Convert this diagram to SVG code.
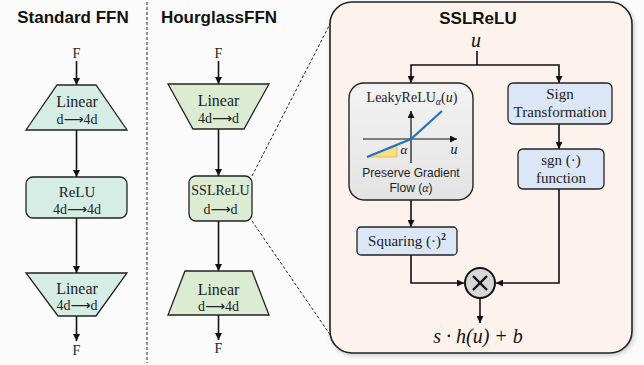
<svg xmlns="http://www.w3.org/2000/svg" width="644" height="365" viewBox="0 0 644 365">
<defs>
<style>
.title{font-family:"Liberation Sans",Arial,sans-serif;font-weight:bold;font-size:17px;fill:#111;text-anchor:middle}
.serif{font-family:"Liberation Serif","Times New Roman","DejaVu Sans",serif;fill:#222;text-anchor:middle}
.ital{font-family:"Liberation Serif","Times New Roman",serif;font-style:italic;fill:#111;text-anchor:middle}
.sans{font-family:"Liberation Sans",Arial,sans-serif;fill:#222;text-anchor:middle;font-size:12px}
.std{fill:#d6ede6;stroke:#222;stroke-width:1.3}
.hg{fill:#dcecd2;stroke:#222;stroke-width:1.3}
.blue{fill:#dbe6f6;stroke:#222;stroke-width:1.3}
.conn{stroke:#111;stroke-width:1.6;fill:none}
.dash{stroke:#222;stroke-width:1;stroke-dasharray:3 2;fill:none}
</style>
<marker id="ah" viewBox="0 0 10 10" refX="10" refY="5" markerWidth="7" markerHeight="7" markerUnits="userSpaceOnUse" orient="auto">
<path d="M0,0 L10,5 L0,10 z" fill="#111"/>
</marker>
<marker id="ax" viewBox="0 0 10 10" refX="10" refY="5" markerWidth="7" markerHeight="7" markerUnits="userSpaceOnUse" orient="auto">
<path d="M0,0 L10,5 L0,10 z" fill="#111"/>
</marker>
<filter id="sh" x="-10%" y="-10%" width="120%" height="120%">
<feDropShadow dx="1.5" dy="2" stdDeviation="2" flood-color="#000" flood-opacity="0.18"/>
</filter>
<linearGradient id="gray" x1="0" y1="0" x2="0" y2="1">
<stop offset="0" stop-color="#f3f3f3"/>
<stop offset="1" stop-color="#e3e3e3"/>
</linearGradient>
</defs>
<rect width="644" height="365" fill="#fbfbfb"/>

<!-- titles -->
<text class="title" x="73" y="23">Standard FFN</text>
<text class="title" x="219" y="23">HourglassFFN</text>

<!-- divider and zoom lines -->
<g id="guides">
<line class="dash" x1="147" y1="2" x2="147" y2="363"/>
<line class="dash" x1="252" y1="176" x2="331" y2="22"/>
<line class="dash" x1="252" y1="221" x2="331" y2="336"/>
</g>

<!-- big SSLReLU panel -->
<g id="ssl-panel">
<rect x="330" y="2" width="302" height="351" rx="22" fill="#fdf3ec" stroke="#222" stroke-width="1.6" filter="url(#sh)"/>
<text class="title" x="478" y="24">SSLReLU</text>
<text class="ital" x="476" y="47" font-size="20">u</text>
</g>

<!-- connectors -->
<g id="connectors">
<line class="conn" x1="76.5" y1="61" x2="76.5" y2="85" marker-end="url(#ah)"/>
<line class="conn" x1="76.5" y1="130" x2="76.5" y2="177" marker-end="url(#ah)"/>
<line class="conn" x1="76.5" y1="218" x2="76.5" y2="273" marker-end="url(#ah)"/>
<line class="conn" x1="76.5" y1="316" x2="76.5" y2="341" marker-end="url(#ah)"/>

<line class="conn" x1="218.5" y1="61" x2="218.5" y2="84" marker-end="url(#ah)"/>
<line class="conn" x1="218.5" y1="129" x2="218.5" y2="176" marker-end="url(#ah)"/>
<line class="conn" x1="218.5" y1="221" x2="218.5" y2="271" marker-end="url(#ah)"/>
<line class="conn" x1="218.5" y1="315" x2="218.5" y2="340" marker-end="url(#ah)"/>

<line class="conn" x1="477" y1="51" x2="477" y2="65"/>
<path class="conn" d="M477,65 H411 V83" marker-end="url(#ah)"/>
<path class="conn" d="M477,65 H559 V83" marker-end="url(#ah)"/>
<line class="conn" x1="559" y1="124" x2="559" y2="149" marker-end="url(#ah)"/>
<line class="conn" x1="411" y1="200" x2="411" y2="227" marker-end="url(#ah)"/>
<path class="conn" d="M411,255 V283 H464" marker-end="url(#ah)"/>
<path class="conn" d="M559,189 V283 H496" marker-end="url(#ah)"/>
<line class="conn" x1="480" y1="298" x2="480" y2="323" marker-end="url(#ah)"/>
</g>

<!-- Standard FFN -->
<text class="serif" x="76.5" y="58" font-size="14">F</text>
<g id="std-linear1">
<polygon class="std" points="57,85 96,85 127,130 26,130"/>
<text class="serif" x="77" y="107" font-size="16">Linear</text>
<text class="serif" x="77" y="124" font-size="14">d⟶4d</text>
</g>
<g id="std-relu">
<rect class="std" x="26" y="177" width="101" height="41" rx="7"/>
<text class="serif" x="77" y="197" font-size="15">ReLU</text>
<text class="serif" x="77" y="214" font-size="14">4d⟶4d</text>
</g>
<g id="std-linear2">
<polygon class="std" points="26,273 127,273 96,316 58,316"/>
<text class="serif" x="77" y="294" font-size="16">Linear</text>
<text class="serif" x="77" y="310" font-size="14">4d⟶d</text>
</g>
<text class="serif" x="76.5" y="355" font-size="14">F</text>

<!-- HourglassFFN -->
<text class="serif" x="218.5" y="58" font-size="14">F</text>
<g id="hg-linear1">
<polygon class="hg" points="168,84 269,84 244,129 193,129"/>
<text class="serif" x="218.5" y="106" font-size="16">Linear</text>
<text class="serif" x="218.5" y="123" font-size="14">4d⟶d</text>
</g>
<g id="hg-sslrelu">
<rect class="hg" x="189" y="176" width="63" height="45" rx="7"/>
<text class="serif" x="220.5" y="195" font-size="14">SSLReLU</text>
<text class="serif" x="220.5" y="214" font-size="14">d⟶d</text>
</g>
<g id="hg-linear2">
<polygon class="hg" points="185,271 252,271 269,315 168,315"/>
<text class="serif" x="218.5" y="295" font-size="16">Linear</text>
<text class="serif" x="218.5" y="311" font-size="14">d⟶4d</text>
</g>
<text class="serif" x="218.5" y="353" font-size="14">F</text>

<!-- LeakyReLU box -->
<g id="leaky">
<rect x="349" y="83" width="124" height="117" rx="15" fill="url(#gray)" stroke="#222" stroke-width="1.4"/>
<text class="serif" x="412" y="102" font-size="14">LeakyReLU<tspan font-style="italic" font-size="10" dy="3">α</tspan><tspan dy="-3">(</tspan><tspan font-style="italic">u</tspan>)</text>
<polygon points="367,157 397,157 397,146" fill="#f7df85" stroke="#d9b84a" stroke-width="0.8"/>
<line x1="411" y1="163" x2="411" y2="111" stroke="#111" stroke-width="1.2" marker-end="url(#ax)"/>
<line x1="363" y1="139" x2="457" y2="139" stroke="#111" stroke-width="1.2" marker-end="url(#ax)"/>
<polyline points="367,157 411,139 442,111" fill="none" stroke="#1f74c2" stroke-width="2.2"/>
<text class="ital" x="404" y="154" font-size="13">α</text>
<text class="ital" x="454" y="154" font-size="14">u</text>
<text class="sans" x="411" y="177">Preserve Gradient</text>
<text class="sans" x="411" y="192">Flow (<tspan font-family="Liberation Serif" font-style="italic">α</tspan>)</text>
</g>

<g id="sign">
<rect class="blue" x="508" y="83" width="104" height="41" rx="5"/>
<text class="serif" x="560" y="99" font-size="15">Sign</text>
<text class="serif" x="560" y="117" font-size="15">Transformation</text>
</g>
<g id="sgn">
<rect class="blue" x="518" y="149" width="86" height="40" rx="5"/>
<text class="serif" x="561" y="165" font-size="15">sgn (·)</text>
<text class="serif" x="561" y="183" font-size="15">function</text>
</g>
<g id="squaring">
<rect class="blue" x="357" y="227" width="100" height="28" rx="4"/>
<text class="serif" x="407" y="246" font-size="15">Squaring (·)<tspan font-size="10" dy="-6" font-weight="bold">2</tspan></text>
</g>
<g id="mult">
<circle cx="480" cy="283" r="15" fill="#d6d6d6" stroke="#111" stroke-width="2"/>
<path d="M473,276 L487,290 M487,276 L473,290" stroke="#111" stroke-width="2.4"/>
</g>
<text class="ital" x="478" y="343" font-size="20">s · h(u) + b</text>
</svg>
